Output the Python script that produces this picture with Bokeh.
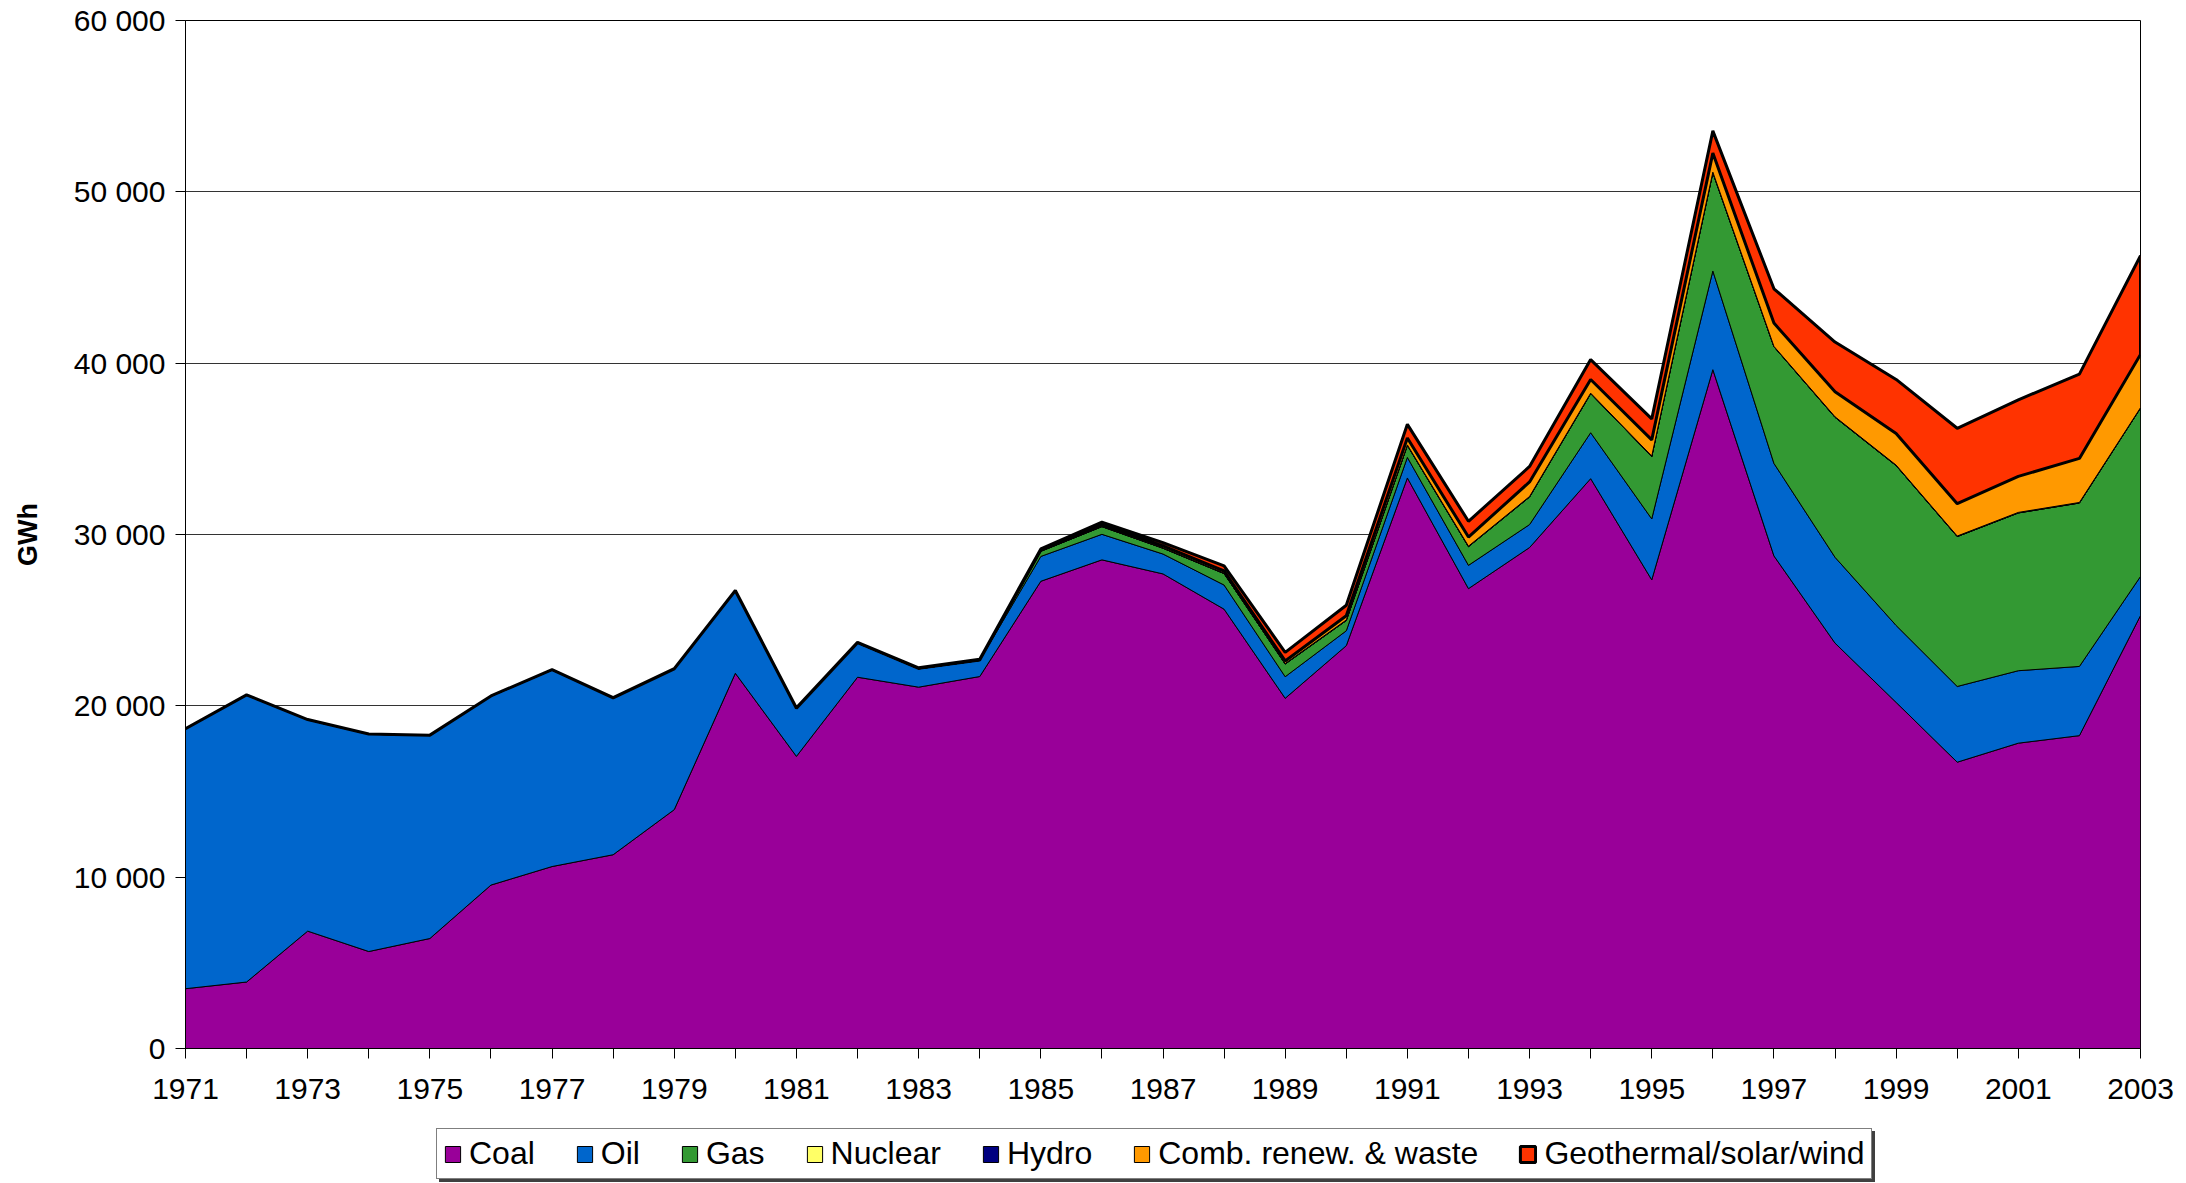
import numpy as np
from bokeh.plotting import figure
from bokeh.layouts import column
from bokeh.models import FixedTicker, Legend, LegendItem
from bokeh.embed import file_html
from bokeh.resources import INLINE

years = list(range(1971, 2004))

coal = [3490, 3880, 6850, 5660, 6420, 9540, 10620, 11310, 13940, 21900, 17050,
        21670, 21090, 21710, 27270, 28520, 27700, 25640, 20440, 23510, 33300,
        26840, 29240, 33260, 27350, 39620, 28750, 23660, 20200, 16710, 17820,
        18260, 25270]
oil = [15160, 16740, 12330, 12680, 11850, 11020, 11470, 9140, 8200, 4800, 2780,
       1990, 1070, 940, 1450, 1490, 1160, 1410, 1260, 870, 1200,
       1360, 1340, 2680, 3560, 5760, 5400, 5010, 4490, 4420, 4230,
       4040, 2280]
gas = [0, 0, 0, 0, 0, 0, 0, 0, 0, 0, 0,
       0, 0, 0, 300, 450, 340, 670, 740, 600, 700,
       1090, 1610, 2280, 3640, 5740, 6810, 8170, 9330, 8750, 9210,
       9540, 9830]
nuclear = [0, 0, 0, 0, 0, 0, 0, 0, 0, 0, 0,
           0, 0, 0, 0, 0, 0, 0, 0, 0, 0,
           0, 0, 0, 0, 0, 0, 0, 0, 0, 0,
           0, 0]
hydro = [20, 20, 20, 20, 20, 20, 20, 20, 20, 20, 30,
         30, 30, 30, 30, 30, 30, 30, 30, 30, 30,
         30, 30, 30, 30, 30, 20, 30, 30, 30, 30,
         30, 20]
comb = [0, 0, 0, 0, 0, 0, 0, 0, 0, 0, 0,
        0, 0, 0, 50, 80, 100, 120, 150, 250, 400,
        530, 850, 800, 940, 1110, 1360, 1460, 1840, 1890, 2100,
        2570, 3110]
geo = [0, 0, 0, 0, 0, 0, 0, 10, 10, 10, 20,
       20, 30, 40, 60, 150, 200, 300, 500, 610, 800,
       920, 900, 1160, 1230, 1300, 2000, 2900, 3160, 4400, 4470,
       4920, 5760]

series_names = ["Coal", "Oil", "Gas", "Nuclear", "Hydro",
                "Comb. renew. & waste", "Geothermal/solar/wind"]
series_values = [coal, oil, gas, nuclear, hydro, comb, geo]
series_colors = ["#990099", "#0066CC", "#339933", "#FFFF66", "#000080",
                 "#FF9900", "#FF3300"]
series_line_widths = [1, 1, 1, 1, 1, 1, 3]

y_ticks = [0, 10000, 20000, 30000, 40000, 50000, 60000]
y_tick_labels = ["0", "10 000", "20 000", "30 000", "40 000", "50 000", "60 000"]
x_labelled_years = [1971, 1973, 1975, 1977, 1979, 1981, 1983, 1985, 1987, 1989,
                    1991, 1993, 1995, 1997, 1999, 2001, 2003]

FONT = "Liberation Sans"
W = 2186
MAIN_H = 1114
LEG_H = 69

p = figure(width=W, height=MAIN_H, output_backend="svg", toolbar_location=None,
           x_range=(1971, 2003), y_range=(0, 60000),
           min_border_left=185, min_border_right=46, min_border_top=20,
           min_border_bottom=66)
p.background_fill_color = "white"
p.border_fill_color = "white"
p.outline_line_color = "black"
p.outline_line_width = 1

# legend strip below the chart (frame aligned with the chart's frame)
lf = figure(width=W, height=LEG_H, output_backend="svg", toolbar_location=None,
            x_axis_type=None, y_axis_type=None,
            x_range=p.x_range, y_range=p.y_range,
            min_border_left=185, min_border_right=46, min_border_top=0,
            min_border_bottom=0)
lf.outline_line_color = None
lf.background_fill_color = "white"
lf.border_fill_color = "white"

x = np.array(years, dtype=float)
base = np.zeros(len(years))
items = []
shadow_items = []
for name, vals, color, lw in zip(series_names, series_values, series_colors,
                                 series_line_widths):
    top = base + np.array(vals, dtype=float)
    xs = np.concatenate([x, x[::-1]])
    ys = np.concatenate([top, base[::-1]])
    p.patch(xs, ys, fill_color=color, line_color="black", line_width=lw)
    # hidden twin used only to draw the legend swatch
    twin = lf.patch(xs, ys, fill_color=color, line_color="black", line_width=lw,
                    visible=False)
    items.append(LegendItem(label=name, renderers=[twin]))
    shadow_items.append(LegendItem(label=name, renderers=[twin]))
    base = top

# axes
p.xaxis.ticker = FixedTicker(ticks=years)
p.xaxis.major_label_overrides = {yr: (str(yr) if yr in x_labelled_years else "")
                                 for yr in years}
p.yaxis.ticker = FixedTicker(ticks=y_ticks)
p.yaxis.major_label_overrides = {v: l for v, l in zip(y_ticks, y_tick_labels)}
for ax in (p.xaxis, p.yaxis):
    ax.major_label_text_font = FONT
    ax.major_label_text_font_size = "30px"
    ax.major_label_text_color = "black"
    ax.axis_line_color = "black"
    ax.major_tick_line_color = "black"
    ax.minor_tick_line_color = None
    ax.major_tick_out = 10
    ax.major_tick_in = 0
p.xaxis.major_label_standoff = 20
p.yaxis.major_label_standoff = 10

p.yaxis.axis_label = "GWh"
p.yaxis.axis_label_text_font = FONT
p.yaxis.axis_label_text_font_style = "bold"
p.yaxis.axis_label_text_font_size = "27px"
p.yaxis.axis_label_text_color = "black"
p.yaxis.axis_label_standoff = 28

p.xgrid.visible = False
p.ygrid.ticker = FixedTicker(ticks=y_ticks)
p.ygrid.grid_line_color = "#333333"
p.ygrid.grid_line_width = 1


def style_legend(lg):
    lg.label_text_font = FONT
    lg.label_text_font_size = "32px"
    lg.glyph_width = 19
    lg.glyph_height = 20
    lg.label_standoff = 7
    lg.spacing = 40
    lg.padding = 6
    lg.margin = 0
    lg.border_line_color = "black"
    lg.border_line_width = 1.5
    lg.background_fill_alpha = 1
    lg.inactive_fill_alpha = 0
    lg.click_policy = "none"


# drop shadow behind the legend box
shadow = Legend(items=shadow_items, orientation="horizontal", location=(254, 1))
style_legend(shadow)
shadow.label_text_color = "#404040"
shadow.background_fill_color = "#404040"
shadow.border_line_color = "#404040"
lf.add_layout(shadow)

legend = Legend(items=items, orientation="horizontal", location=(251, 4))
style_legend(legend)
legend.label_text_color = "black"
legend.background_fill_color = "white"
lf.add_layout(legend)

layout = column(p, lf, spacing=0)
open("out.html", "w").write(file_html(layout, INLINE))
